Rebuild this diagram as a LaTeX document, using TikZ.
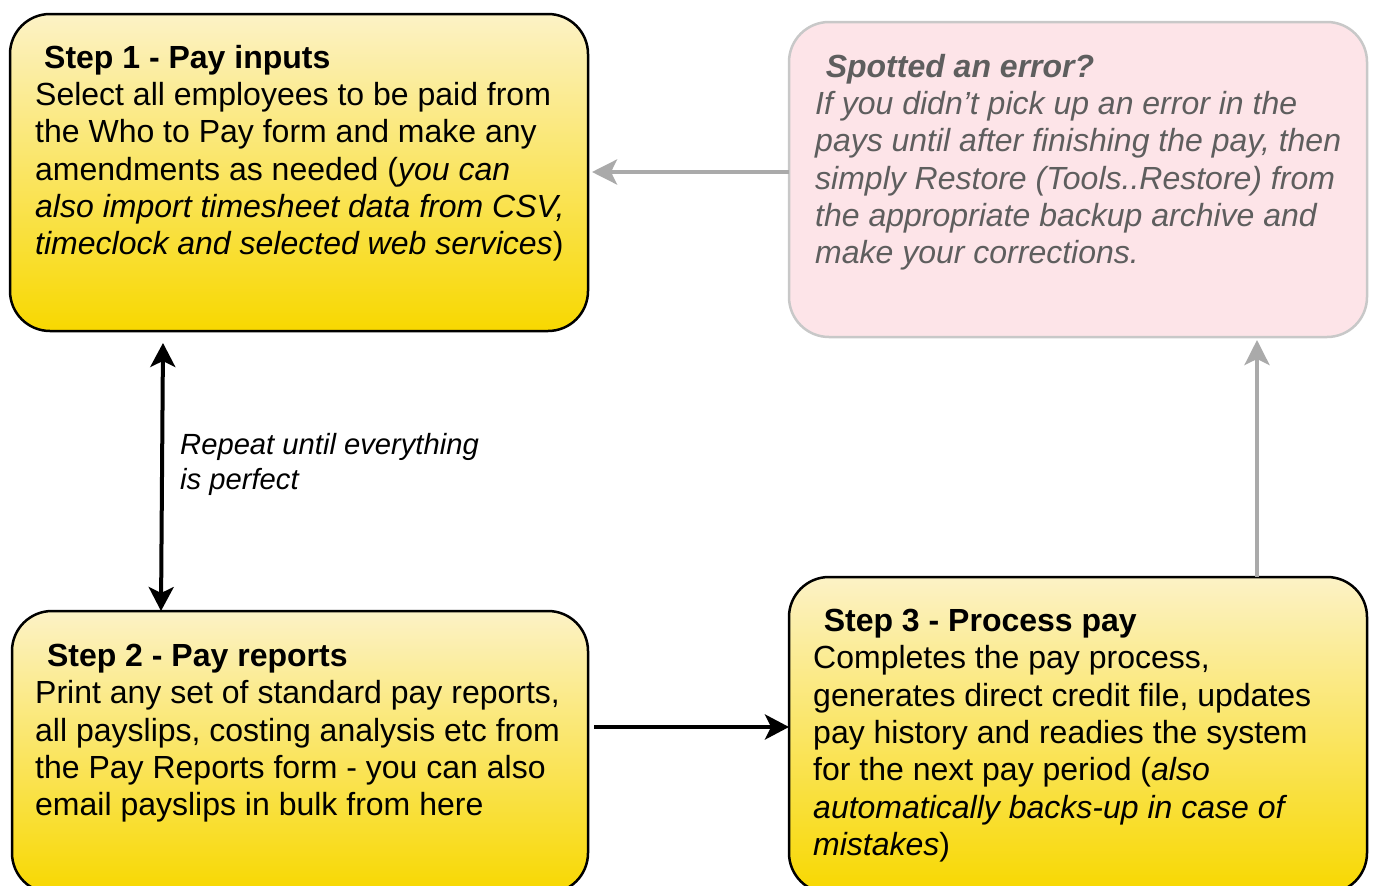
\documentclass[tikz,border=0pt]{standalone}
\usepackage{fontspec}
\setmainfont{Liberation Sans}
\usetikzlibrary{arrows.meta,calc}
\definecolor{ytop}{HTML}{FCF2C6}
\definecolor{ybot}{HTML}{F8D800}
\definecolor{pinkfill}{HTML}{FDE4E8}
\definecolor{pinkdraw}{HTML}{C8C8C8}
\definecolor{errtext}{HTML}{5E5E5E}
\definecolor{grayarrow}{HTML}{AAAAAA}
\begin{document}
\begin{tikzpicture}[x=1pt,y=-1pt,
  stepbox/.style={draw=black, line width=2.5pt, rounded corners=40pt, top color=ytop, bottom color=ybot, anchor=north west, inner sep=0pt, outer sep=0pt},
  errbox/.style={draw=pinkdraw, line width=2.5pt, rounded corners=40pt, fill=pinkfill, anchor=north west, inner sep=0pt, outer sep=0pt},
  boxtext/.style={anchor=north west, align=left, inner sep=0pt, font=\fontsize{32}{37.3}\selectfont},
  lbltext/.style={anchor=north west, align=left, inner sep=0pt, font=\fontsize{29.2}{35}\selectfont\itshape},
  blackarrow/.style={line width=4pt, -{Stealth[length=24pt,width=25pt,inset=6pt]}},
  dblarrow/.style={line width=4pt, {Stealth[length=24pt,width=25pt,inset=6pt]}-{Stealth[length=24pt,width=25pt,inset=6pt]}},
  grayarr/.style={draw=grayarrow, line width=4pt, -{Stealth[length=25pt,width=25pt,inset=6pt]}},
]
\useasboundingbox (0,0) rectangle (1374,886);
\clip (0,0) rectangle (1374,886);

\node[stepbox, minimum width=578pt, minimum height=317pt] (step1) at (10,14) {};
\node[stepbox, minimum width=576pt, minimum height=282pt] (step2) at (12,611) {};
\node[stepbox, minimum width=578pt, minimum height=316pt] (step3) at (789,577) {};
\node[errbox, minimum width=578pt, minimum height=315pt] (err) at (789,22) {};

\node[boxtext] (t1) at (35,45) {\textbf{\hspace*{.28em}Step 1 - Pay inputs}\\
Select all employees to be paid from\\
the Who to Pay form and make any\\
amendments as needed (\textit{you can}\\
\textit{also import timesheet data from CSV,}\\
\textit{timeclock and selected web services})};

\node[boxtext] (t2) at (35,644) {\textbf{\hspace*{.37em}Step 2 - Pay reports}\\
Print any set of standard pay reports,\\
all payslips, costing analysis etc from\\
the Pay Reports form - you can also\\
email payslips in bulk from here};

\node[boxtext] (t3) at (813,609) {\textbf{\hspace*{.33em}Step 3 - Process pay}\\
Completes the pay process,\\
generates direct credit file, updates\\
pay history and readies the system\\
for the next pay period (\textit{also}\\
\textit{automatically backs-up in case of}\\
\textit{mistakes})};

\node[boxtext, text=errtext, font=\fontsize{32}{37.3}\selectfont\itshape] (te) at (815,54) {\textbf{\hspace*{.33em}Spotted an error?}\\
If you didn’t pick up an error in the\\
pays until after finishing the pay, then\\
simply Restore (Tools..Restore) from\\
the appropriate backup archive and\\
make your corrections.};

\node[lbltext] (lbl) at (180,433) {Repeat until everything\\is perfect};

\draw[dblarrow] ([xshift=153pt,yshift=-12pt]step1.south west) -- ([xshift=149pt]step2.north west);
\coordinate (s2out) at ([xshift=6pt,yshift=-116pt]step2.north east);
\draw[blackarrow] (s2out) -- (s2out -| step3.west);
\coordinate (errout) at ([yshift=-150pt]err.north west);
\draw[grayarr] (errout) -- ($(errout -| step1.east)+(4,0)$);
\coordinate (s3out) at ([xshift=468pt]step3.north west);
\draw[grayarr] (s3out) -- ($(s3out |- err.south)+(0,3)$);
\end{tikzpicture}
\end{document}
